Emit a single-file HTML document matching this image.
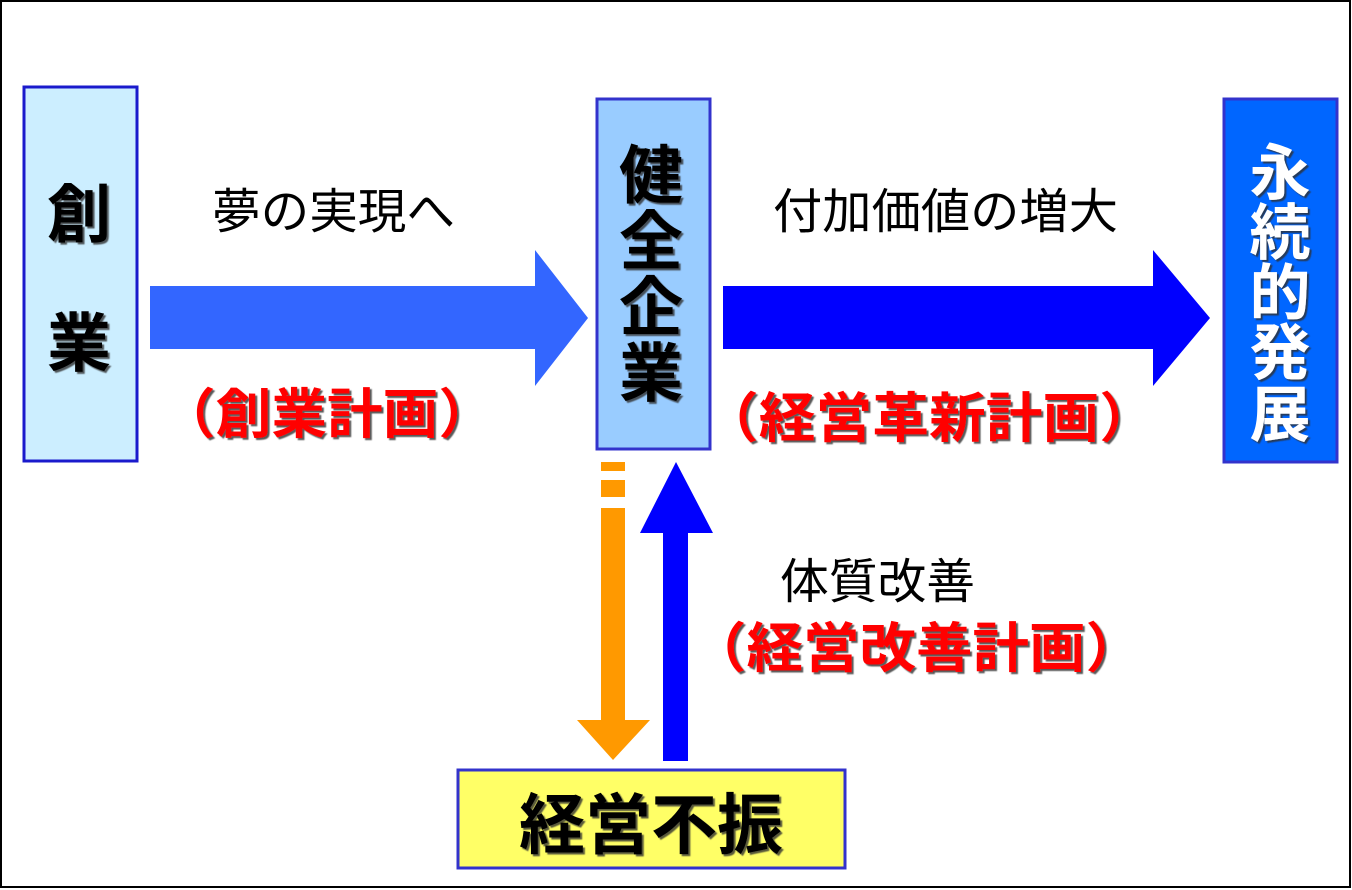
<!DOCTYPE html>
<html><head><meta charset="utf-8"><style>
html,body{margin:0;padding:0;background:#fff}
svg{display:block}
text{font-family:"Liberation Sans","Noto Sans CJK JP",sans-serif}
</style></head><body>
<svg width="1352" height="890" viewBox="0 0 1352 890" xmlns="http://www.w3.org/2000/svg">
<defs>
<filter id="sh" x="-10%" y="-10%" width="130%" height="130%"><feDropShadow dx="2" dy="2" stdDeviation="0.6" flood-color="#333" flood-opacity="0.8"/></filter>
</defs>
<rect x="1" y="1" width="1349" height="886" fill="#fff" stroke="#000" stroke-width="2"/>
<rect x="24" y="87" width="113" height="374" fill="#cceeff" stroke="#1a1acc" stroke-width="3"/>
<rect x="597" y="99" width="113" height="350" fill="#99ccff" stroke="#3333cc" stroke-width="3"/>
<rect x="1224" y="99" width="113" height="363" fill="#0066ff" stroke="#3333cc" stroke-width="3"/>
<rect x="458" y="770" width="387" height="98" fill="#ffff66" stroke="#3333cc" stroke-width="3"/>
<polygon points="150,286 535,286 535,250 588,318 535,386 535,349 150,349" fill="#3366ff"/>
<polygon points="723,286 1153,286 1153,250 1210,318 1153,386 1153,349 723,349" fill="#0000ff"/>
<rect x="601" y="462" width="24" height="9" fill="#ff9900"/>
<rect x="601" y="480" width="24" height="17" fill="#ff9900"/>
<polygon points="601,508 625,508 625,720 650,720 613,760 577,720 601,720" fill="#ff9900"/>
<polygon points="676,462 713,533 688,533 688,761 663,761 663,533 640,533" fill="#0000ff"/>
<g font-size="48" fill="#000">
<text x="212" y="228" textLength="243" lengthAdjust="spacingAndGlyphs">夢の実現へ</text>
<text x="773" y="228" textLength="345" lengthAdjust="spacingAndGlyphs">付加価値の増大</text>
<text x="780" y="598" textLength="195" lengthAdjust="spacingAndGlyphs">体質改善</text>
</g>
<g font-size="54" font-weight="bold" fill="#ff0000" filter="url(#sh)">
<text x="160" y="433" textLength="334" lengthAdjust="spacingAndGlyphs">（創業計画）</text>
<text x="702" y="437" textLength="454" lengthAdjust="spacingAndGlyphs">（経営革新計画）</text>
<text x="690" y="667" textLength="452" lengthAdjust="spacingAndGlyphs">（経営改善計画）</text>
</g>
<g font-size="64" font-weight="bold" fill="#000" text-anchor="middle" filter="url(#sh)">
<text x="79" y="237">創</text>
<text x="79" y="366">業</text>
<text x="651" y="198">健</text>
<text x="651" y="264">全</text>
<text x="651" y="330">企</text>
<text x="651" y="396">業</text>
<text x="651" y="848" font-size="66">経営不振</text>
</g>
<g font-size="61" font-weight="bold" fill="#fff" text-anchor="middle" filter="url(#sh)">
<text x="1280" y="194">永</text>
<text x="1280" y="254">続</text>
<text x="1280" y="314">的</text>
<text x="1280" y="374">発</text>
<text x="1280" y="436">展</text>
</g>
</svg>
</body></html>
